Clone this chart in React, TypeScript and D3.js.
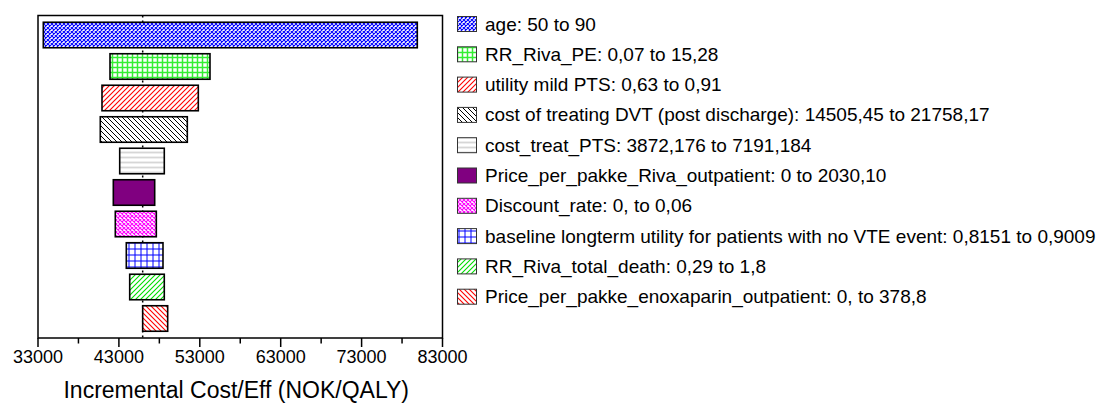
import * as d3 from "d3";

const WIDTH = 1096;
const HEIGHT = 403;

const PARAMS = [
  "age",
  "RR_Riva_PE",
  "utility mild PTS",
  "cost of treating DVT (post discharge)",
  "cost_treat_PTS",
  "Price_per_pakke_Riva_outpatient",
  "Discount_rate",
  "baseline longterm utility for patients with no VTE event",
  "RR_Riva_total_death",
  "Price_per_pakke_enoxaparin_outpatient",
];
const RANGES = [
  "50 to 90",
  "0,07 to 15,28",
  "0,63 to 0,91",
  "14505,45 to 21758,17",
  "3872,176 to 7191,184",
  "0 to 2030,10",
  "0, to 0,06",
  "0,8151 to 0,9009",
  "0,29 to 1,8",
  "0, to 378,8",
];
const LOW = [33655, 41900, 40910, 40700, 43100, 42310, 42555, 43915, 44335, 45940];
const HIGH = [79885, 54260, 52815, 51455, 48610, 47425, 47625, 48450, 48610, 49030];
const BASE = 45940;
const X_TICKS = [33000, 43000, 53000, 63000, 73000, 83000];
const X_MINOR = [38000, 48000, 58000, 68000, 78000];

const FONT = "'Liberation Sans', Arial, sans-serif";

const PLOT = { left: 38, right: 442.5, top: 15.5, bottom: 338 };

// fill per parameter, in order
const FILLS = [
  "url(#xhatch-blue)",
  "url(#grid-green)",
  "url(#fwd-red)",
  "url(#back-black)",
  "url(#horiz-gray)",
  "#800080",
  "url(#xhatch-magenta)",
  "url(#grid-blue)",
  "url(#fwd-green)",
  "url(#back-red)",
];

const Patterns = () => (
  <defs>
    <pattern id="xhatch-blue" patternUnits="userSpaceOnUse" width={4} height={4}>
      <rect width={4} height={4} fill="#fff" />
      <path d="M0,0 L4,4 M4,0 L0,4" stroke="#0000ff" strokeWidth={1.05} />
    </pattern>
    <pattern id="xhatch-magenta" patternUnits="userSpaceOnUse" width={4} height={4}>
      <rect width={4} height={4} fill="#fff" />
      <path d="M0,0 L4,4 M4,0 L0,4" stroke="#ff00ff" strokeWidth={1.1} />
    </pattern>
    <pattern id="grid-green" patternUnits="userSpaceOnUse" width={5} height={5}>
      <rect width={5} height={5} fill="#fff" />
      <path d="M2.5,0 V5 M0,2.5 H5" stroke="#33ee33" strokeWidth={1.5} />
    </pattern>
    <pattern id="grid-blue" patternUnits="userSpaceOnUse" width={6} height={6}>
      <rect width={6} height={6} fill="#fff" />
      <path d="M3,0 V6 M0,3 H6" stroke="#0000ff" strokeWidth={1} />
    </pattern>
    <pattern id="fwd-red" patternUnits="userSpaceOnUse" width={5} height={5}>
      <rect width={5} height={5} fill="#fff" />
      <path d="M-1,6 L6,-1 M-1,1 L1,-1 M4,6 L6,4" stroke="#ff0000" strokeWidth={1.1} />
    </pattern>
    <pattern id="fwd-green" patternUnits="userSpaceOnUse" width={5} height={5}>
      <rect width={5} height={5} fill="#fff" />
      <path d="M-1,6 L6,-1 M-1,1 L1,-1 M4,6 L6,4" stroke="#00dd00" strokeWidth={1.1} />
    </pattern>
    <pattern id="back-black" patternUnits="userSpaceOnUse" width={5} height={5}>
      <rect width={5} height={5} fill="#fff" />
      <path d="M-1,-1 L6,6 M4,-1 L6,1 M-1,4 L1,6" stroke="#000" strokeWidth={1} />
    </pattern>
    <pattern id="back-red" patternUnits="userSpaceOnUse" width={5} height={5}>
      <rect width={5} height={5} fill="#fff" />
      <path d="M-1,-1 L6,6 M4,-1 L6,1 M-1,4 L1,6" stroke="#ff0000" strokeWidth={1.1} />
    </pattern>
    <pattern id="horiz-gray" patternUnits="userSpaceOnUse" width={5} height={5}>
      <rect width={5} height={5} fill="#fff" />
      <path d="M0,2.5 H5" stroke="#d6d6d6" strokeWidth={1.8} />
    </pattern>
  </defs>
);

const App = () => {
  const xScale = d3.scaleLinear().domain([33000, 83000]).range([PLOT.left, PLOT.right]);
  const yScale = d3
    .scaleBand()
    .domain(PARAMS)
    .range([PLOT.top, PLOT.bottom])
    .paddingInner(0.19)
    .paddingOuter(0.214);

  const legendY = d3.scaleLinear().domain([0, 9]).range([24, 296.7]);

  const bars = PARAMS.map((p, i) => {
    const y = yScale(p);
    if (y === undefined) return null;
    return (
      <rect
        key={p}
        x={xScale(LOW[i])}
        y={y}
        width={xScale(HIGH[i]) - xScale(LOW[i])}
        height={yScale.bandwidth()}
        fill={FILLS[i]}
        stroke="#000"
        strokeWidth={1.6}
      />
    );
  });

  const legend = PARAMS.map((p, i) => {
    const cy = legendY(i);
    return (
      <g key={p}>
        <rect
          x={457.5}
          y={cy - 7.5}
          width={19}
          height={15}
          fill={FILLS[i]}
          stroke="#333"
          strokeWidth={1}
        />
        <text x={485} y={cy} dominantBaseline="central" fontSize={19} fontFamily={FONT} fill="#000">
          {p}: {RANGES[i]}
        </text>
      </g>
    );
  });

  return (
    <>
      <style>{`body{margin:0}`}</style>
      <svg width={WIDTH} height={HEIGHT} style={{ display: "block", background: "#fff" }}>
        <Patterns />
        <line
          x1={xScale(BASE)}
          x2={xScale(BASE)}
          y1={PLOT.top}
          y2={PLOT.bottom}
          stroke="#000"
          strokeWidth={1.5}
          strokeDasharray="2,3"
        />
        {bars}
        <rect
          x={PLOT.left}
          y={PLOT.top}
          width={PLOT.right - PLOT.left}
          height={PLOT.bottom - PLOT.top}
          fill="none"
          stroke="#000"
          strokeWidth={1.5}
        />
        {X_TICKS.map((t) => (
          <g key={t}>
            <line x1={xScale(t)} x2={xScale(t)} y1={PLOT.bottom} y2={PLOT.bottom + 9} stroke="#000" strokeWidth={1.5} />
            <text x={xScale(t)} y={PLOT.bottom + 25} textAnchor="middle" fontSize={18} fontFamily={FONT} fill="#000">
              {t}
            </text>
          </g>
        ))}
        {X_MINOR.map((t) => (
          <line key={t} x1={xScale(t)} x2={xScale(t)} y1={PLOT.bottom} y2={PLOT.bottom + 5.5} stroke="#000" strokeWidth={1.5} />
        ))}
        <text
          x={(PLOT.left + PLOT.right) / 2 - 4}
          y={398}
          textAnchor="middle"
          fontSize={23}
          fontFamily={FONT}
          fill="#000"
        >
          Incremental Cost/Eff (NOK/QALY)
        </text>
        {legend}
      </svg>
    </>
  );
};

export default App;
